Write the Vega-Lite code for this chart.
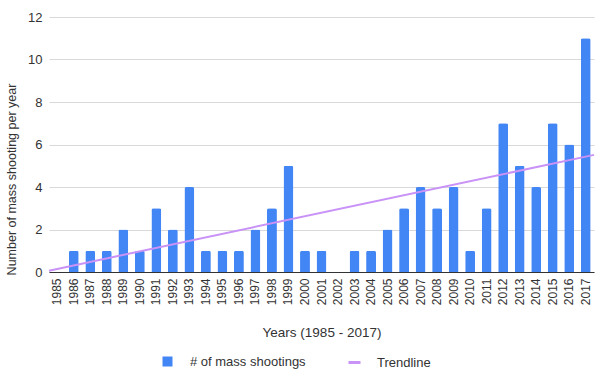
{
  "$schema": "https://vega.github.io/schema/vega-lite/v6.json",
  "width": 545,
  "height": 255,
  "autosize": "none",
  "padding": {"left": 49, "top": 17, "right": 6, "bottom": 103},
  "background": "white",
  "config": {
    "font": "Liberation Sans",
    "view": {"stroke": null},
    "axis": {"labelColor": "#333333", "titleColor": "#333333", "labelFont": "Liberation Sans", "titleFont": "Liberation Sans", "titleFontWeight": "normal", "titleFontSize": 13.5, "labelFontSize": 12},
    "legend": {"labelFont": "Liberation Sans", "labelFontSize": 13, "labelColor": "#333333"}
  },
  "data": {"values": [
    {"year": 1985, "count": 0}, {"year": 1986, "count": 1}, {"year": 1987, "count": 1}, {"year": 1988, "count": 1},
    {"year": 1989, "count": 2}, {"year": 1990, "count": 1}, {"year": 1991, "count": 3}, {"year": 1992, "count": 2},
    {"year": 1993, "count": 4}, {"year": 1994, "count": 1}, {"year": 1995, "count": 1}, {"year": 1996, "count": 1},
    {"year": 1997, "count": 2}, {"year": 1998, "count": 3}, {"year": 1999, "count": 5}, {"year": 2000, "count": 1},
    {"year": 2001, "count": 1}, {"year": 2002, "count": 0}, {"year": 2003, "count": 1}, {"year": 2004, "count": 1},
    {"year": 2005, "count": 2}, {"year": 2006, "count": 3}, {"year": 2007, "count": 4}, {"year": 2008, "count": 3},
    {"year": 2009, "count": 4}, {"year": 2010, "count": 1}, {"year": 2011, "count": 3}, {"year": 2012, "count": 7},
    {"year": 2013, "count": 5}, {"year": 2014, "count": 4}, {"year": 2015, "count": 7}, {"year": 2016, "count": 6},
    {"year": 2017, "count": 11}
  ]},
  "layer": [
    {
      "mark": {"type": "bar", "cornerRadiusTopLeft": 2, "cornerRadiusTopRight": 2},
      "encoding": {
        "x": {"field": "year", "type": "ordinal", "scale": {"paddingInner": 0.4, "paddingOuter": 0.2},
          "axis": {"title": "Years (1985 - 2017)", "labelAngle": -90, "ticks": false, "domainColor": "#333333", "labelPadding": 6, "titlePadding": 21}},
        "y": {"field": "count", "type": "quantitative", "scale": {"domain": [0, 12], "nice": false},
          "axis": {"title": "Number of mass shooting per year", "titleFontSize": 12.5, "titleY": 162, "values": [0, 2, 4, 6, 8, 10, 12], "domain": false, "ticks": false, "gridColor": "#d9d9d9", "labelPadding": 7, "labelFontSize": 13, "titlePadding": 9}},
        "color": {"datum": "# of mass shootings", "scale": {"range": ["#4285F4"]},
          "legend": {"orient": "none", "legendX": 112, "legendY": 338, "title": null, "symbolType": "square", "symbolSize": 100, "symbolStrokeWidth": 0, "symbolOpacity": 1, "labelOffset": 16, "direction": "horizontal"}}
      }
    },
    {
      "transform": [{"regression": "count", "on": "year", "extent": [1984.5, 2017.5]}],
      "mark": {"type": "line", "strokeWidth": 2},
      "encoding": {
        "x": {"field": "year", "type": "quantitative", "scale": {"domain": [1984.5, 2017.5], "nice": false, "zero": false}, "axis": null},
        "y": {"field": "count", "type": "quantitative"},
        "color": {"datum": "Trendline", "scale": {"range": ["#C992F7"]},
          "legend": {"orient": "none", "legendX": 298, "legendY": 338, "title": null, "symbolType": "stroke", "symbolStrokeWidth": 3, "symbolSize": 144, "labelOffset": 15, "direction": "horizontal"}}
      }
    }
  ],
  "resolve": {"scale": {"x": "independent", "color": "independent"}}
}
